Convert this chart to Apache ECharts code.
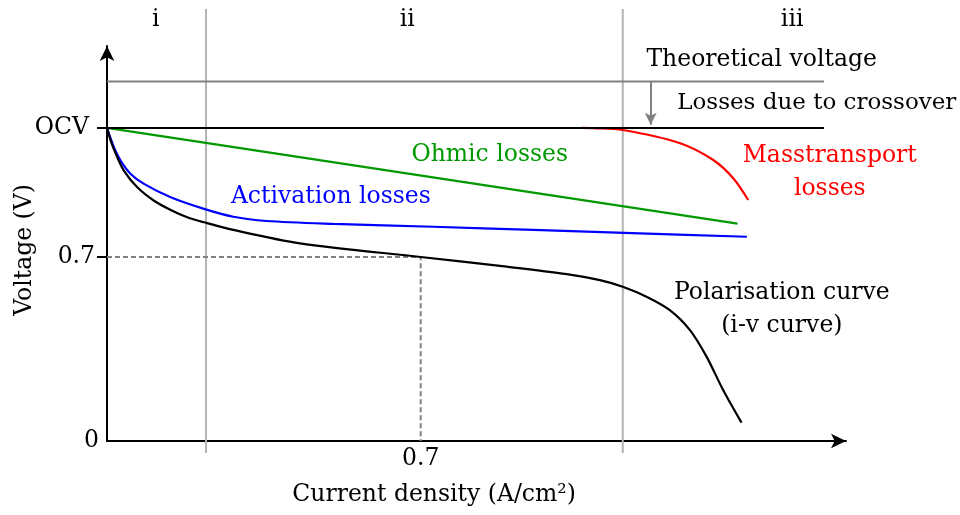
<!DOCTYPE html>
<html>
<head>
<meta charset="utf-8">
<script src="https://cdn.jsdelivr.net/npm/echarts@6/dist/echarts.min.js"></script>
<style>
html,body{margin:0;padding:0;background:#fff;}
#chart{width:960px;height:515px;}
</style>
</head>
<body>
<div id="chart"></div>
<script>
// ---- data ----
const OCV = 1.191;
const THEORETICAL = 1.368;
const LINE_END_X = 1.600;
const OPERATING_POINT = [0.7, 0.7];
const regionBounds = [0.221, 1.151];
const regionNames = ['i', 'ii', 'iii'];
const regionLabelX = [0.109, 0.670, 1.529];

const polX = [0, 0.0083, 0.0230, 0.0379, 0.0676, 0.1049, 0.1422, 0.1792, 0.2165, 0.2819, 0.4307, 0.700, 0.877, 1.026, 1.100, 1.151, 1.204, 1.256, 1.301, 1.338, 1.375, 1.416];
const polV = [1.191, 1.142, 1.079, 1.028, 0.965, 0.914, 0.879, 0.851, 0.832, 0.803, 0.752, 0.700, 0.666, 0.635, 0.612, 0.587, 0.549, 0.498, 0.422, 0.321, 0.194, 0.070];

const actX = [0, 0.0156, 0.0306, 0.0529, 0.0826, 0.1422, 0.2165, 0.2819, 0.3564, 0.5051, 0.7283, 0.9514, 1.189, 1.428];
const actV = [1.191, 1.117, 1.066, 1.016, 0.978, 0.927, 0.883, 0.853, 0.837, 0.826, 0.815, 0.803, 0.790, 0.777];

const ohmX = [0, 1.407];
const ohmV = [1.191, 0.827];

const massX = [1.06, 1.085, 1.151, 1.279, 1.353, 1.398, 1.431];
const massV = [1.191, 1.190, 1.183, 1.133, 1.069, 0.999, 0.917];

const crossoverX = 1.2134;

const yTickValues = [0, 0.7, OCV];
const xTickValues = [0.7];

// annotation texts and anchor points (data coordinates)
const annotText = ['Theoretical voltage', 'Losses due to crossover', 'Ohmic losses', 'Activation losses', 'Masstransport\nlosses', 'Polarisation curve\n(i-v curve)', 'Current density (A/cm²)', 'Voltage (V)'];
const annotX = [1.461, 1.584, 0.854, 0.4995, 1.613, 1.506, 0.730, -0.183];
const annotY = [1.449, 1.286, 1.088, 0.928, 1.020, 0.500, -0.205, 0.727];
const annotColor = ['#000', '#000', '#009900', '#0000ff', '#ff0000', '#000', '#000', '#000'];
const annotRotate = [0, 0, 0, 0, 0, 0, 0, 90];
const annotSize = [23.5, 23, 23.5, 23.5, 23.5, 23.5, 23.5, 23.5];

// ---- build ----
const zip = (xs, ys) => xs.map((x, i) => [x, ys[i]]);
const FONT = 'DejaVu Serif';
const FS = 23.5;
const LW = 2.2;

const chart = echarts.init(document.getElementById('chart'), null, {renderer: 'canvas'});

const simpleLine = (data, color, width, extra) => Object.assign({
  type: 'line', data: data, showSymbol: false, symbol: 'none', silent: true,
  clip: false, z: 3,
  lineStyle: {color: color, width: width}
}, extra || {});

const series = [];
// region separators
regionBounds.forEach(b => {
  series.push(simpleLine([[b, -0.046], [b, 1.643]], '#b3b3b3', 2, {z: 1}));
});
// theoretical voltage line + crossover arrow
series.push(simpleLine([[0, THEORETICAL], [LINE_END_X, THEORETICAL]], '#808080', 2, {
  markLine: {
    silent: true, symbol: ['none', 'arrow'], symbolSize: [9, 12],
    label: {show: false},
    lineStyle: {color: '#808080', width: 2, type: 'solid'},
    data: [[{coord: [crossoverX, THEORETICAL]}, {coord: [crossoverX, OCV + 0.012]}]]
  }
}));
// OCV line
series.push(simpleLine([[0, OCV], [LINE_END_X, OCV]], '#000', 2, {z: 4}));
// dashed operating point
series.push(simpleLine([[0, OPERATING_POINT[1]], OPERATING_POINT, [OPERATING_POINT[0], 0]], '#808080', 2, {
  lineStyle: {color: '#808080', width: 2, type: [5, 3]}, z: 2
}));
// curves
series.push(simpleLine(zip(ohmX, ohmV), '#009900', LW));
series.push(simpleLine(zip(actX, actV), '#0000ff', LW, {smooth: 0.3}));
series.push(simpleLine(zip(massX, massV), '#ff0000', LW, {smooth: 0.3}));
series.push(simpleLine(zip(polX, polV), '#000', LW, {smooth: 0.3, z: 5}));

const noBorder = {textBorderWidth: 0, textBorderColor: 'transparent', textShadowBlur: 0, opacity: 1};

// region names
series.push({
  type: 'scatter', silent: true, clip: false, symbolSize: 0, itemStyle: {opacity: 1},
  data: regionNames.map((n, i) => ({value: [regionLabelX[i], 1.602], name: n})),
  label: Object.assign({show: true, position: 'inside', formatter: p => p.name, color: '#000',
          fontFamily: FONT, fontSize: FS, align: 'center', verticalAlign: 'middle'}, noBorder)
});
// annotations
series.push({
  type: 'scatter', silent: true, clip: false, symbolSize: 0, itemStyle: {opacity: 1},
  data: annotText.map((t, i) => ({
    value: [annotX[i], annotY[i]], name: t,
    label: Object.assign({color: annotColor[i], rotate: annotRotate[i], fontSize: annotSize[i]}, noBorder)
  })),
  label: Object.assign({show: true, position: 'inside', formatter: p => p.name,
          fontFamily: FONT, fontSize: FS, lineHeight: 33, align: 'center', verticalAlign: 'middle'}, noBorder)
});

chart.setOption({
  animation: false,
  backgroundColor: '#fff',
  grid: {left: 107, right: 114, top: 46, bottom: 74, containLabel: false},
  xAxis: {
    type: 'value', min: 0, max: 1.6492,
    splitLine: {show: false},
    axisLine: {show: true, lineStyle: {color: '#000', width: 2}, symbol: ['none', 'arrow'], symbolSize: [11, 15]},
    axisTick: {show: false},
    axisLabel: {
      customValues: xTickValues, margin: 6,
      formatter: v => String(v),
      color: '#000', fontFamily: FONT, fontSize: FS
    }
  },
  yAxis: {
    type: 'value', min: 0, max: 1.5027,
    splitLine: {show: false},
    axisLine: {show: true, lineStyle: {color: '#000', width: 2}, symbol: ['none', 'arrow'], symbolSize: [11, 15]},
    axisTick: {show: true, customValues: [0.7, OCV], length: 10, inside: false, lineStyle: {color: '#000', width: 2}},
    axisLabel: {
      customValues: yTickValues, margin: 8,
      formatter: v => {
        if (Math.abs(v - OCV) < 1e-6) return '{o|OCV}';
        if (Math.abs(v - 0.7) < 1e-6) return '{s|0.7}';
        return '{z|0}';
      },
      rich: {
        o: {fontFamily: FONT, fontSize: FS, color: '#000', padding: [0, 10, 0, 0]},
        s: {fontFamily: FONT, fontSize: FS, color: '#000', padding: [0, 4, 0, 0]},
        z: {fontFamily: FONT, fontSize: FS, color: '#000'}
      },
      color: '#000', fontFamily: FONT, fontSize: FS
    }
  },
  series: series
});
</script>
</body>
</html>
